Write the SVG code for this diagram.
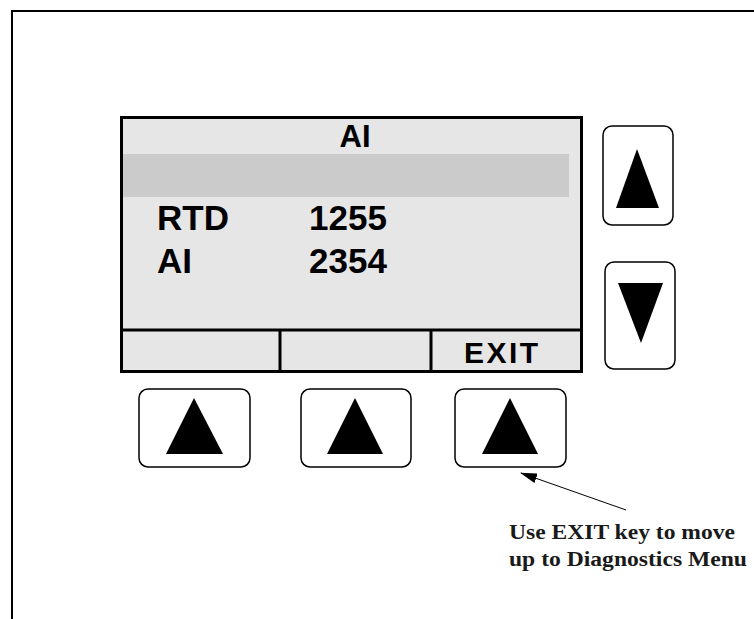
<svg xmlns="http://www.w3.org/2000/svg" width="754" height="619" viewBox="0 0 754 619">
<style>
.btn{fill:#fff;stroke:#000;stroke-width:1.5}
.tri{fill:#000}
.lcd{font-family:"Liberation Sans",Arial,sans-serif;font-weight:bold;fill:#000}
.note{font-family:"Liberation Serif","Times New Roman",serif;font-weight:bold;font-size:20px;fill:#1a1a1a}
</style>
<defs>
<marker id="ah" markerWidth="17" markerHeight="10" refX="16" refY="5" orient="auto" markerUnits="userSpaceOnUse">
<path d="M0,0 L17,5 L0,10 Z" fill="#000"/>
</marker>
</defs>
<rect width="754" height="619" fill="#fff"/>
<path d="M12,619 V11 H754" fill="none" stroke="#000" stroke-width="2"/>
<g id="screen">
<rect x="121.5" y="117.5" width="460" height="254" fill="#e6e6e6" stroke="#000" stroke-width="3"/>
<rect x="123" y="154" width="446" height="43" fill="#cbcbcb"/>
<line x1="121.5" y1="330" x2="581.5" y2="330" stroke="#000" stroke-width="3"/>
<line x1="280" y1="330" x2="280" y2="371.5" stroke="#000" stroke-width="3"/>
<line x1="431" y1="330" x2="431" y2="371.5" stroke="#000" stroke-width="3"/>
<text class="lcd" x="355" y="147" font-size="31" text-anchor="middle">AI</text>
<text class="lcd" x="157" y="230" font-size="35">RTD</text>
<text class="lcd" x="309" y="230" font-size="35">1255</text>
<text class="lcd" x="157" y="273" font-size="35">AI</text>
<text class="lcd" x="309" y="273" font-size="35">2354</text>
<text class="lcd" x="464" y="363" font-size="30" textLength="74">EXIT</text>
</g>
<g id="btn-up">
<rect class="btn" x="603" y="126" width="70" height="99" rx="9"/>
<polygon class="tri" points="637,149 659,208 616,208"/>
</g>
<g id="btn-down">
<rect class="btn" x="605" y="262" width="70" height="107" rx="9"/>
<polygon class="tri" points="618,283 663,283 641,343"/>
</g>
<g id="btn-f1">
<rect class="btn" x="139" y="389" width="111" height="78" rx="9"/>
<polygon class="tri" points="194,398 223,454 166,454"/>
</g>
<g id="btn-f2">
<rect class="btn" x="301" y="389" width="110" height="78" rx="9"/>
<polygon class="tri" points="355,398 383,454 327,454"/>
</g>
<g id="btn-f3">
<rect class="btn" x="455" y="389" width="111" height="78" rx="9"/>
<polygon class="tri" points="510,398 538,454 482,454"/>
</g>
<g id="connectors">
<line x1="626" y1="510" x2="521" y2="473" stroke="#000" stroke-width="1" marker-end="url(#ah)"/>
</g>
<g id="note">
<text class="note" x="509" y="539" textLength="226" lengthAdjust="spacingAndGlyphs">Use EXIT key to move</text>
<text class="note" x="509" y="566" textLength="238" lengthAdjust="spacingAndGlyphs">up to Diagnostics Menu</text>
</g>
</svg>
